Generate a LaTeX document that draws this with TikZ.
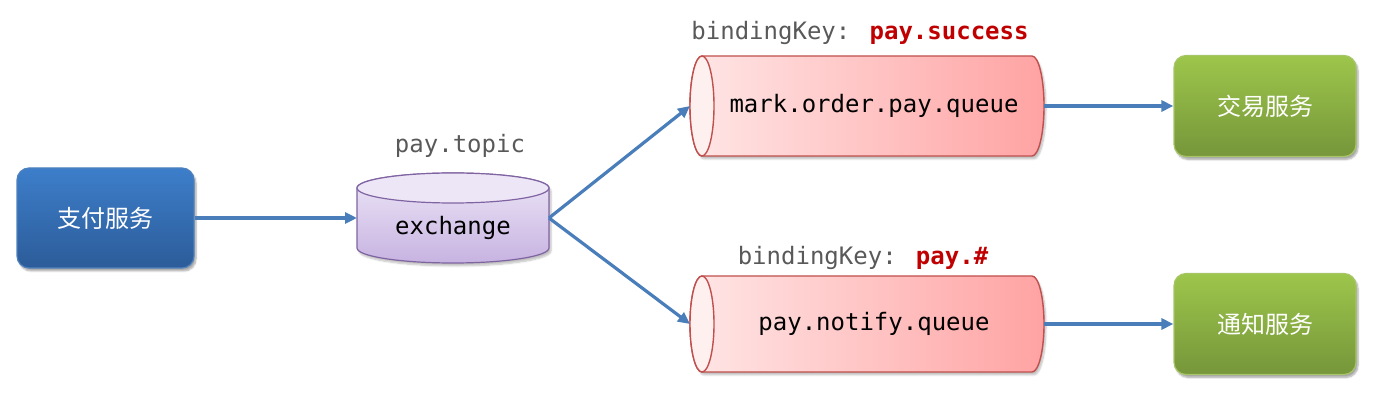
\documentclass[tikz,border=0pt]{standalone}
\usepackage{fontspec}
\newfontfamily\cjk{Noto Sans CJK SC}
\newfontfamily\mono{DejaVu Sans Mono}
\usetikzlibrary{arrows.meta,shadows.blur}
\definecolor{arrowblue}{HTML}{4A7EBB}
\definecolor{bluetop}{HTML}{3D7ECA}
\definecolor{bluebot}{HTML}{2C5C99}
\definecolor{blueedge}{HTML}{4F81BD}
\definecolor{greentop}{HTML}{9DC64B}
\definecolor{greenbot}{HTML}{76963A}
\definecolor{greenedge}{HTML}{A6C567}
\definecolor{purpedge}{HTML}{8064A2}
\definecolor{purptop}{HTML}{EDE6F7}
\definecolor{purpbot}{HTML}{C7B3E1}
\definecolor{rededge}{HTML}{C0504D}
\definecolor{redleft}{HTML}{FFE6E6}
\definecolor{redright}{HTML}{FFA3A3}
\definecolor{redface}{HTML}{FFF0F0}
\definecolor{graytext}{HTML}{595959}
\definecolor{keyred}{HTML}{C00000}
\tikzset{
  arr/.style={draw=arrowblue, line width=3.2pt, -{Triangle[length=12pt,width=11pt]}},
  svc/.style={rounded corners=12pt, minimum height=100pt, text=white, line width=1.2pt,
    font=\cjk\fontsize{24pt}{28pt}\selectfont,
    blur shadow={shadow xshift=2pt, shadow yshift=-3pt, shadow blur steps=6, shadow opacity=35}},
  paysvc/.style={svc, minimum width=177pt, draw=blueedge, top color=bluetop, bottom color=bluebot},
  tradesvc/.style={svc, minimum width=182pt, minimum height=101pt, draw=greenedge, top color=greentop, bottom color=greenbot},
  anchorbox/.style={inner sep=0pt, outer sep=0pt, rectangle},
  monotext/.style={font=\mono\fontsize{24pt}{28pt}\selectfont, text=black},
  keytext/.style={font=\mono\fontsize{24pt}{28pt}\selectfont, text=graytext},
  cylshadow/.style={blur shadow={shadow xshift=2pt, shadow yshift=-3pt, shadow blur steps=6, shadow opacity=25}},
}
\begin{document}
\begin{tikzpicture}[x=1pt,y=1pt]
\useasboundingbox (0,0) rectangle (1390,415);

% exchange cylinder
\path[cylshadow, draw=purpedge, line width=1.2pt, top color=purptop, bottom color=purpbot]
  (357,227) -- (357,167) arc (180:360:96 and 15) -- (549,227) arc (0:180:96 and 15) -- cycle;
\draw[purpedge, line width=1.2pt, fill=purptop] (453,227) ellipse (96 and 15);

% queue 1
\path[cylshadow, draw=rededge, line width=1.4pt, left color=redleft, right color=redright]
  (702,359) -- (1032,359) arc (90:-90:12 and 50) -- (702,259) arc (270:90:12 and 50) -- cycle;
\draw[rededge, line width=1.4pt, fill=redface] (702,309) ellipse (12 and 50);

% queue 2
\path[cylshadow, draw=rededge, line width=1.4pt, left color=redleft, right color=redright]
  (702,139) -- (1032,139) arc (90:-90:12 and 48) -- (702,43) arc (270:90:12 and 48) -- cycle;
\draw[rededge, line width=1.4pt, fill=redface] (702,91) ellipse (12 and 48);

% nodes
\node[paysvc] (pay) at (105.5,197) {支付服务};
\node[anchorbox, monotext, minimum width=192pt, minimum height=90pt] (ex) at (453,197)
  {\raisebox{-10pt}[\height][\depth]{exchange}};
\node[anchorbox, monotext, minimum width=354pt, minimum height=100pt] (q1) at (867,309)
  {\hspace*{14pt}mark.order.pay.queue};
\node[anchorbox, monotext, minimum width=354pt, minimum height=96pt] (q2) at (867,91)
  {\hspace*{14pt}pay.notify.queue};
\node[tradesvc] (trade) at (1265,309) {交易服务};
\node[tradesvc] (notify) at (1265,91) {通知服务};

% labels
\node[keytext] (topiclbl) at (460,269) {pay.topic};
\node[keytext] (key1) at (860,382) {bindingKey: \textcolor{keyred}{\bfseries pay.success}};
\node[keytext] (key2) at (863,157) {bindingKey: \textcolor{keyred}{\bfseries pay.\#}};

% connectors
\draw[arr] (pay.east) -- (ex.west);
\draw[arr] (ex.east) -- (q1.west);
\draw[arr] (ex.east) -- (q2.west);
\draw[arr] (q1.east) -- (trade.west);
\draw[arr] (q2.east) -- (notify.west);
\end{tikzpicture}
\end{document}
